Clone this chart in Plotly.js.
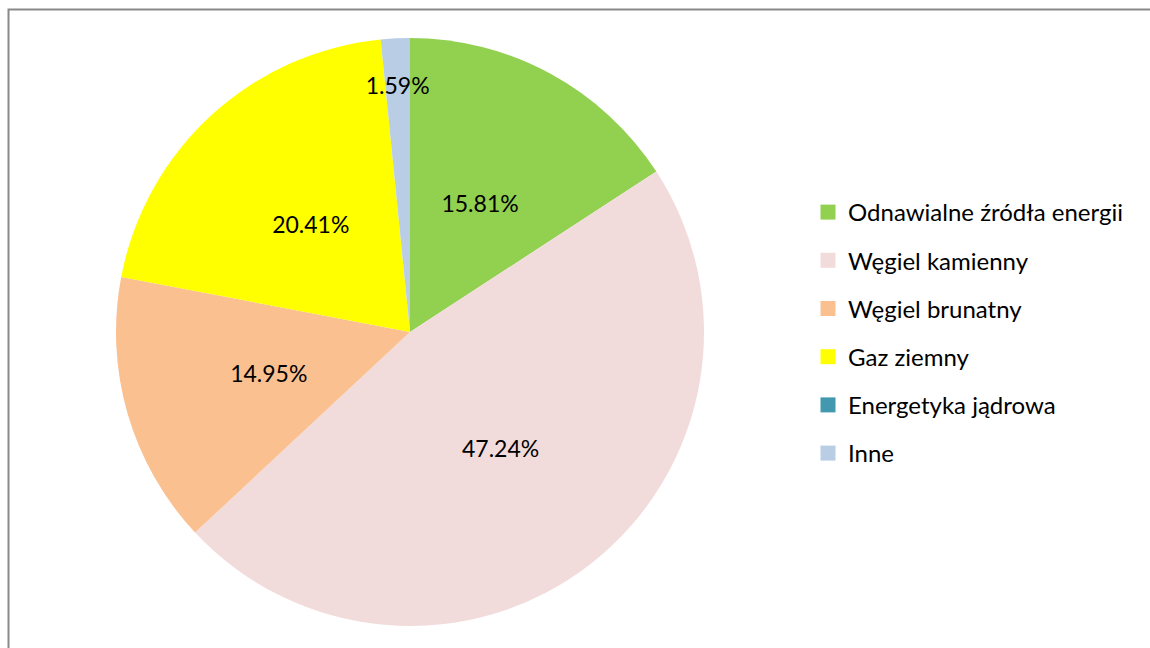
<!DOCTYPE html>
<html>
<head>
<meta charset="utf-8">
<script src="https://cdn.plot.ly/plotly-3.0.1.min.js"></script>
<style>html,body{margin:0;padding:0;background:#fff;}#chart{width:1150px;height:648px;}</style>
</head>
<body>
<div id="chart"></div>
<script>
const labels = ["Odnawialne źródła energii", "Węgiel kamienny", "Węgiel brunatny", "Gaz ziemny", "Energetyka jądrowa", "Inne"];
const values = [15.81, 47.24, 14.95, 20.41, 0, 1.59];
const colors = ["#92D050", "#F2DCDB", "#FAC090", "#FFFF00", "#4198AF", "#B9CDE5"];

const FONT = "Lato, 'Open Sans', sans-serif";
const W = 1150, H = 648;
const CX = 410, CY = 332, R = 294;          // pie centre / radius in px

function domainFor(r) {
  return {x: [(CX - r) / W, (CX + r) / W], y: [(H - CY - r) / H, (H - CY + r) / H]};
}

// main pie (no text)
const pie = {
  type: "pie",
  labels: labels,
  values: values,
  sort: false,
  direction: "clockwise",
  rotation: 0,
  marker: {colors: colors, line: {width: 0}},
  textinfo: "none",
  hoverinfo: "label+percent",
  showlegend: false,
  domain: domainFor(R)
};

// label pies: transparent copies sized so each label sits where the reference puts it
const total = values.reduce((a, b) => a + b, 0);
const labelPies = [];
values.forEach((v, i) => {
  if (v <= 0) return;
  const half = Math.PI * v / total;
  const rIns = Math.min(1 / (1 + 1 / Math.sin(half)), 0.5);
  const rCenter = 1 - rIns;
  const target = (v / total < 0.03) ? 0.84 : 0.5;   // fraction of R for label centre
  const r = target * R / rCenter;
  labelPies.push({
    type: "pie",
    labels: labels,
    values: values,
    sort: false,
    direction: "clockwise",
    rotation: 0,
    marker: {colors: labels.map(() => "rgba(0,0,0,0)"), line: {width: 0}},
    texttemplate: values.map((_, j) => j === i ? "%{value:.2f}%" : ""),
    textposition: "inside",
    insidetextorientation: "horizontal",
    textfont: {family: FONT, size: 23, color: "#000"},
    hoverinfo: "skip",
    showlegend: false,
    domain: domainFor(r)
  });
});

const legendTraces = labels.map((l, i) => ({
  type: "scatter",
  x: [null], y: [null],
  mode: "markers",
  name: l,
  legendgroup: "g" + i,
  marker: {symbol: "square", size: 15, color: colors[i]},
  showlegend: true,
  hoverinfo: "skip"
}));

const layout = {
  width: W, height: H,
  margin: {l: 0, r: 0, t: 0, b: 0},
  paper_bgcolor: "#fff",
  plot_bgcolor: "rgba(0,0,0,0)",
  font: {family: FONT, size: 23, color: "#000"},
  uniformtext: {minsize: 23, mode: "show"},
  xaxis: {visible: false, domain: [0.99, 1]},
  yaxis: {visible: false, domain: [0.99, 1]},
  legend: {
    x: 808/W, xanchor: "left",
    y: 1 - 190/H, yanchor: "top",
    font: {family: FONT, size: 24, color: "#000"},
    tracegroupgap: 14,
    itemclick: false, itemdoubleclick: false,
    bgcolor: "rgba(0,0,0,0)"
  },
  shapes: [{
    type: "path", xref: "paper", yref: "paper",
    path: "M 0.0074 -0.1 L 0.0074 " + (1 - 9.5/H) + " L 1.1 " + (1 - 9.5/H),
    line: {color: "#898989", width: 2}
  }]
};

Plotly.newPlot("chart", [pie].concat(labelPies, legendTraces), layout, {displayModeBar: false, staticPlot: true});
</script>
</body>
</html>
